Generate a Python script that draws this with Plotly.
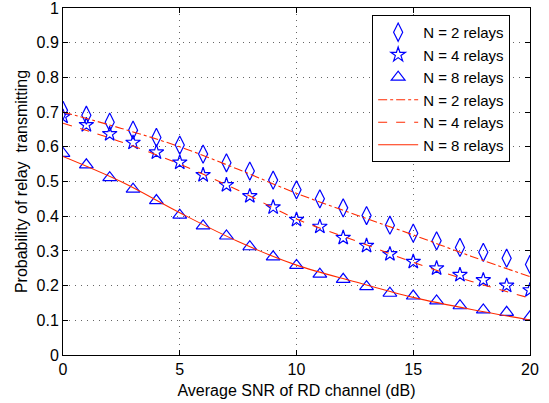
import plotly.graph_objects as go

snr = list(range(21))
sim_n2 = [0.705, 0.691, 0.671, 0.648, 0.627, 0.605, 0.579, 0.554, 0.530, 0.504, 0.476,
          0.450, 0.424, 0.402, 0.374, 0.351, 0.329, 0.310, 0.296, 0.279, 0.261]
sim_n4 = [0.687, 0.663, 0.637, 0.612, 0.584, 0.555, 0.519, 0.490, 0.458, 0.426, 0.390,
          0.370, 0.338, 0.315, 0.291, 0.269, 0.250, 0.231, 0.216, 0.200, 0.187]
sim_n8 = [0.581, 0.548, 0.511, 0.478, 0.445, 0.403, 0.372, 0.343, 0.312, 0.283, 0.258,
          0.233, 0.218, 0.197, 0.178, 0.170, 0.156, 0.142, 0.130, 0.123, 0.110]

snr_line = [0, 2.5, 5, 7.5, 10, 12.5, 15, 17.5, 20]
ana_n2 = [0.700, 0.653, 0.600, 0.535, 0.466, 0.405, 0.346, 0.284, 0.226]
ana_n4 = [0.668, 0.614, 0.550, 0.475, 0.392, 0.330, 0.267, 0.212, 0.164]
ana_n8 = [0.572, 0.499, 0.410, 0.327, 0.259, 0.211, 0.166, 0.131, 0.101]

labels = ["N = 2 relays", "N = 4 relays", "N = 8 relays"]
x_ticks = [0, 5, 10, 15, 20]
y_ticks = [0, 0.1, 0.2, 0.3, 0.4, 0.5, 0.6, 0.7, 0.8, 0.9, 1]

blue = "#0000ff"
red = "#ff2a00"

fig = go.Figure()
for vals, sym, sz, lab in [(sim_n2, "diamond-tall-open", 13, labels[0]),
                           (sim_n4, "star-open", 11, labels[1]),
                           (sim_n8, "triangle-up-open", 12, labels[2])]:
    fig.add_trace(go.Scatter(x=snr, y=vals, mode="markers", name=lab,
                             marker=dict(symbol=sym, size=sz, color=blue,
                                         line=dict(color=blue, width=1.2))))
for vals, dash, lab in [(ana_n2, "dashdot", labels[0]),
                        (ana_n4, "dash", labels[1]),
                        (ana_n8, "solid", labels[2])]:
    fig.add_trace(go.Scatter(x=snr_line, y=vals, mode="lines", name=lab,
                             line=dict(color=red, width=1.1, dash=dash, shape="spline")))

axis_common = dict(showline=True, linecolor="black", linewidth=1, mirror="ticks",
                   ticks="inside", ticklen=5, tickcolor="black",
                   showgrid=True, gridcolor="#666666", griddash="1px,5px", gridwidth=1,
                   zeroline=False, automargin=False, ticklabeloverflow="allow",
                   tickfont=dict(family="Liberation Sans, Arial", size=16, color="black"))

fig.update_layout(
    width=549, height=403,
    margin=dict(l=63, r=19, t=8, b=48),
    paper_bgcolor="white", plot_bgcolor="white",
    font=dict(family="Liberation Sans, Arial", size=16, color="black"),
    xaxis=dict(range=[0, 20], tickvals=x_ticks, ticktext=[str(v) for v in x_ticks],
               title=dict(text="Average SNR of RD channel (dB)", standoff=7,
                          font=dict(size=16)),
               **axis_common),
    yaxis=dict(range=[0, 1], tickvals=y_ticks,
               ticktext=["0" if v == 0 else ("1" if v == 1 else f"{v:.1f}") for v in y_ticks],
               title=dict(text="Probability of relay  transmitting", standoff=4,
                          font=dict(size=16)),
               **axis_common),
    legend=dict(x=0.662, y=0.98, xanchor="left", yanchor="top",
                bgcolor="white", bordercolor="black", borderwidth=1,
                font=dict(size=15), tracegroupgap=0, itemwidth=40),
    showlegend=True,
)

fig.write_html("out.html", config={"displayModeBar": False},
               post_script="document.body.style.margin='0';document.body.style.padding='0';")
